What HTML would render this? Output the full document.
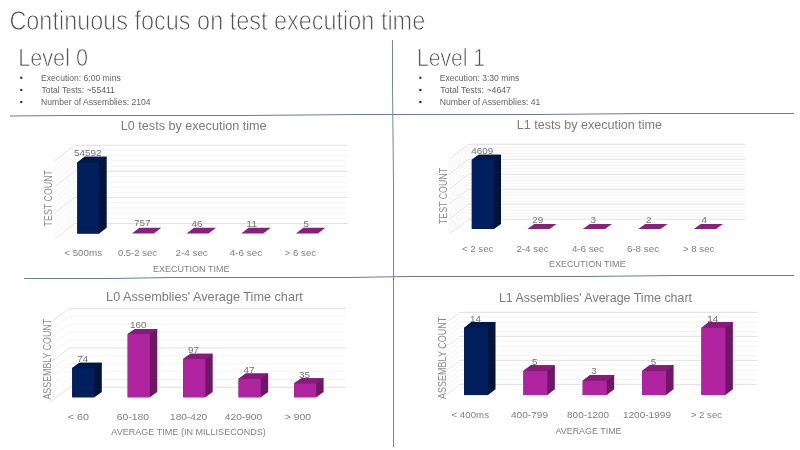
<!DOCTYPE html>
<html><head><meta charset="utf-8"><style>
html,body{margin:0;padding:0;background:#fff;}
body{width:800px;height:450px;overflow:hidden;}
svg{display:block;font-family:"Liberation Sans", sans-serif;will-change:transform;}
</style></head><body>
<svg width="800" height="450" viewBox="0 0 800 450">
<rect width="800" height="450" fill="#ffffff"/>
<text x="9.4" y="29.9" font-size="27" fill="#505050" textLength="415.8" lengthAdjust="spacingAndGlyphs" stroke="#fff" stroke-width="0.8">Continuous focus on test execution time</text>
<text x="18.2" y="65.8" font-size="23.5" fill="#505050" textLength="69.8" lengthAdjust="spacingAndGlyphs" stroke="#fff" stroke-width="0.7">Level 0</text>
<text x="416.9" y="66.2" font-size="23.5" fill="#505050" textLength="68.2" lengthAdjust="spacingAndGlyphs" stroke="#fff" stroke-width="0.7">Level 1</text>
<rect x="20.2" y="76.7" width="2.1" height="2.1" fill="#1a2656"/>
<text x="41.1" y="80.5" font-size="9.3" fill="#626262" textLength="79.6" lengthAdjust="spacingAndGlyphs">Execution: 6:00 mins</text>
<rect x="20.2" y="88.9" width="2.1" height="2.1" fill="#1a2656"/>
<text x="41.6" y="92.7" font-size="9.3" fill="#626262" textLength="73.2" lengthAdjust="spacingAndGlyphs">Total Tests: ~55411</text>
<rect x="20.2" y="101.0" width="2.1" height="2.1" fill="#1a2656"/>
<text x="41.1" y="104.8" font-size="9.3" fill="#626262" textLength="109.5" lengthAdjust="spacingAndGlyphs">Number of Assemblies: 2104</text>
<rect x="419.3" y="76.7" width="2.1" height="2.1" fill="#1a2656"/>
<text x="439.8" y="80.5" font-size="9.3" fill="#626262" textLength="79.5" lengthAdjust="spacingAndGlyphs">Execution: 3:30 mins</text>
<rect x="419.3" y="88.9" width="2.1" height="2.1" fill="#1a2656"/>
<text x="440.3" y="92.7" font-size="9.3" fill="#626262" textLength="70.7" lengthAdjust="spacingAndGlyphs">Total Tests: ~4647</text>
<rect x="419.3" y="101.0" width="2.1" height="2.1" fill="#1a2656"/>
<text x="439.8" y="104.8" font-size="9.3" fill="#626262" textLength="100.6" lengthAdjust="spacingAndGlyphs">Number of Assemblies: 41</text>
<polyline points="10,116.0 65,115.5 247,115.5 357,114.5 538,114.5 648,113.5 794,113.5" fill="none" stroke="#6a7b9f" stroke-width="1"/>
<polyline points="24,278.5 112,278.5 172,277.5 349,277.5 409,276.5 586,276.5 675,275.5 794,275.5" fill="none" stroke="#6a7b9f" stroke-width="1"/>
<polyline points="392.5,40 392.5,87 393.5,183 393.5,447" fill="none" stroke="#7384a6" stroke-width="1"/>
<line x1="74.6" y1="145.3" x2="347.3" y2="145.3" stroke="#d9d9d9" stroke-width="0.8"/>
<line x1="74.6" y1="145.3" x2="54.8" y2="160.6" stroke="#d9d9d9" stroke-width="0.8"/>
<line x1="74.6" y1="150.5" x2="347.3" y2="150.5" stroke="#f0f0f0" stroke-width="0.8"/>
<line x1="74.6" y1="150.5" x2="54.8" y2="165.8" stroke="#f0f0f0" stroke-width="0.8"/>
<line x1="74.6" y1="155.7" x2="347.3" y2="155.7" stroke="#f0f0f0" stroke-width="0.8"/>
<line x1="74.6" y1="155.7" x2="54.8" y2="171.0" stroke="#f0f0f0" stroke-width="0.8"/>
<line x1="74.6" y1="160.9" x2="347.3" y2="160.9" stroke="#f0f0f0" stroke-width="0.8"/>
<line x1="74.6" y1="160.9" x2="54.8" y2="176.2" stroke="#f0f0f0" stroke-width="0.8"/>
<line x1="74.6" y1="166.2" x2="347.3" y2="166.2" stroke="#f0f0f0" stroke-width="0.8"/>
<line x1="74.6" y1="166.2" x2="54.8" y2="181.5" stroke="#f0f0f0" stroke-width="0.8"/>
<line x1="74.6" y1="171.4" x2="347.3" y2="171.4" stroke="#d9d9d9" stroke-width="0.8"/>
<line x1="74.6" y1="171.4" x2="54.8" y2="186.7" stroke="#d9d9d9" stroke-width="0.8"/>
<line x1="74.6" y1="176.6" x2="347.3" y2="176.6" stroke="#f0f0f0" stroke-width="0.8"/>
<line x1="74.6" y1="176.6" x2="54.8" y2="191.9" stroke="#f0f0f0" stroke-width="0.8"/>
<line x1="74.6" y1="181.8" x2="347.3" y2="181.8" stroke="#f0f0f0" stroke-width="0.8"/>
<line x1="74.6" y1="181.8" x2="54.8" y2="197.1" stroke="#f0f0f0" stroke-width="0.8"/>
<line x1="74.6" y1="187.0" x2="347.3" y2="187.0" stroke="#f0f0f0" stroke-width="0.8"/>
<line x1="74.6" y1="187.0" x2="54.8" y2="202.3" stroke="#f0f0f0" stroke-width="0.8"/>
<line x1="74.6" y1="192.2" x2="347.3" y2="192.2" stroke="#f0f0f0" stroke-width="0.8"/>
<line x1="74.6" y1="192.2" x2="54.8" y2="207.5" stroke="#f0f0f0" stroke-width="0.8"/>
<line x1="74.6" y1="197.4" x2="347.3" y2="197.4" stroke="#d9d9d9" stroke-width="0.8"/>
<line x1="74.6" y1="197.4" x2="54.8" y2="212.7" stroke="#d9d9d9" stroke-width="0.8"/>
<line x1="74.6" y1="202.6" x2="347.3" y2="202.6" stroke="#f0f0f0" stroke-width="0.8"/>
<line x1="74.6" y1="202.6" x2="54.8" y2="217.9" stroke="#f0f0f0" stroke-width="0.8"/>
<line x1="74.6" y1="207.9" x2="347.3" y2="207.9" stroke="#f0f0f0" stroke-width="0.8"/>
<line x1="74.6" y1="207.9" x2="54.8" y2="223.2" stroke="#f0f0f0" stroke-width="0.8"/>
<line x1="74.6" y1="213.1" x2="347.3" y2="213.1" stroke="#f0f0f0" stroke-width="0.8"/>
<line x1="74.6" y1="213.1" x2="54.8" y2="228.4" stroke="#f0f0f0" stroke-width="0.8"/>
<line x1="74.6" y1="218.3" x2="347.3" y2="218.3" stroke="#f0f0f0" stroke-width="0.8"/>
<line x1="74.6" y1="218.3" x2="54.8" y2="233.6" stroke="#f0f0f0" stroke-width="0.8"/>
<line x1="74.6" y1="223.5" x2="347.3" y2="223.5" stroke="#d9d9d9" stroke-width="0.8"/>
<line x1="74.6" y1="223.5" x2="54.8" y2="238.8" stroke="#d9d9d9" stroke-width="0.8"/>
<polygon points="77.30,162.45 84.70,156.65 106.70,156.65 106.70,227.80 99.30,233.60 77.30,233.60" fill="#001439"/>
<polygon points="77.30,162.45 99.80,162.45 107.20,156.65 84.70,156.65" fill="#001848"/>
<rect x="77.30" y="162.45" width="22.00" height="71.15" fill="#001f5c"/>
<text x="87.7" y="156.1" font-size="9.8" fill="#747474" textLength="27.5" lengthAdjust="spacingAndGlyphs" text-anchor="middle">54592</text>
<polygon points="131.95,233.60 153.95,233.60 161.35,227.80 139.35,227.80" fill="#8a1f7c"/>
<text x="142.3" y="226.3" font-size="9.8" fill="#747474" textLength="16.5" lengthAdjust="spacingAndGlyphs" text-anchor="middle">757</text>
<polygon points="186.60,233.60 208.60,233.60 216.00,227.80 194.00,227.80" fill="#8a1f7c"/>
<text x="197.0" y="227.2" font-size="9.8" fill="#747474" textLength="11.0" lengthAdjust="spacingAndGlyphs" text-anchor="middle">46</text>
<polygon points="241.25,233.60 263.25,233.60 270.65,227.80 248.65,227.80" fill="#8a1f7c"/>
<text x="251.7" y="227.3" font-size="9.8" fill="#747474" textLength="11.0" lengthAdjust="spacingAndGlyphs" text-anchor="middle">11</text>
<polygon points="295.90,233.60 317.90,233.60 325.30,227.80 303.30,227.80" fill="#8a1f7c"/>
<text x="306.3" y="227.3" font-size="9.8" fill="#747474" textLength="5.5" lengthAdjust="spacingAndGlyphs" text-anchor="middle">5</text>
<text x="64.2" y="255.9" font-size="9.8" fill="#808080" textLength="37.9" lengthAdjust="spacingAndGlyphs">&lt; 500ms</text>
<text x="117.9" y="255.9" font-size="9.8" fill="#808080" textLength="39.1" lengthAdjust="spacingAndGlyphs">0.5-2 sec</text>
<text x="175.5" y="255.9" font-size="9.8" fill="#808080" textLength="32.3" lengthAdjust="spacingAndGlyphs">2-4 sec</text>
<text x="229.8" y="255.9" font-size="9.8" fill="#808080" textLength="32.3" lengthAdjust="spacingAndGlyphs">4-6 sec</text>
<text x="284.5" y="255.9" font-size="9.8" fill="#808080" textLength="31.7" lengthAdjust="spacingAndGlyphs">&gt; 6 sec</text>
<text x="153.1" y="271.9" font-size="9.6" fill="#828282" textLength="76.3" lengthAdjust="spacingAndGlyphs">EXECUTION TIME</text>
<text x="120.8" y="129.5" font-size="13" fill="#7c7c7c" textLength="145.8" lengthAdjust="spacingAndGlyphs">L0 tests by execution time</text>
<text x="0" y="0" font-size="10.2" fill="#8a8a8a" text-anchor="middle" textLength="56.4" lengthAdjust="spacingAndGlyphs" transform="translate(52.0,198.2) rotate(-90)">TEST COUNT</text>
<line x1="468.6" y1="144.3" x2="745.0" y2="144.3" stroke="#d9d9d9" stroke-width="0.8"/>
<line x1="468.6" y1="144.3" x2="449.0" y2="159.3" stroke="#d9d9d9" stroke-width="0.8"/>
<line x1="468.6" y1="147.3" x2="745.0" y2="147.3" stroke="#f0f0f0" stroke-width="0.8"/>
<line x1="468.6" y1="147.3" x2="449.0" y2="162.3" stroke="#f0f0f0" stroke-width="0.8"/>
<line x1="468.6" y1="150.3" x2="745.0" y2="150.3" stroke="#f0f0f0" stroke-width="0.8"/>
<line x1="468.6" y1="150.3" x2="449.0" y2="165.3" stroke="#f0f0f0" stroke-width="0.8"/>
<line x1="468.6" y1="153.3" x2="745.0" y2="153.3" stroke="#f0f0f0" stroke-width="0.8"/>
<line x1="468.6" y1="153.3" x2="449.0" y2="168.3" stroke="#f0f0f0" stroke-width="0.8"/>
<line x1="468.6" y1="156.3" x2="745.0" y2="156.3" stroke="#f0f0f0" stroke-width="0.8"/>
<line x1="468.6" y1="156.3" x2="449.0" y2="171.3" stroke="#f0f0f0" stroke-width="0.8"/>
<line x1="468.6" y1="159.3" x2="745.0" y2="159.3" stroke="#d9d9d9" stroke-width="0.8"/>
<line x1="468.6" y1="159.3" x2="449.0" y2="174.3" stroke="#d9d9d9" stroke-width="0.8"/>
<line x1="468.6" y1="162.3" x2="745.0" y2="162.3" stroke="#f0f0f0" stroke-width="0.8"/>
<line x1="468.6" y1="162.3" x2="449.0" y2="177.3" stroke="#f0f0f0" stroke-width="0.8"/>
<line x1="468.6" y1="165.3" x2="745.0" y2="165.3" stroke="#f0f0f0" stroke-width="0.8"/>
<line x1="468.6" y1="165.3" x2="449.0" y2="180.3" stroke="#f0f0f0" stroke-width="0.8"/>
<line x1="468.6" y1="168.3" x2="745.0" y2="168.3" stroke="#f0f0f0" stroke-width="0.8"/>
<line x1="468.6" y1="168.3" x2="449.0" y2="183.3" stroke="#f0f0f0" stroke-width="0.8"/>
<line x1="468.6" y1="171.3" x2="745.0" y2="171.3" stroke="#f0f0f0" stroke-width="0.8"/>
<line x1="468.6" y1="171.3" x2="449.0" y2="186.3" stroke="#f0f0f0" stroke-width="0.8"/>
<line x1="468.6" y1="174.3" x2="745.0" y2="174.3" stroke="#d9d9d9" stroke-width="0.8"/>
<line x1="468.6" y1="174.3" x2="449.0" y2="189.3" stroke="#d9d9d9" stroke-width="0.8"/>
<line x1="468.6" y1="177.3" x2="745.0" y2="177.3" stroke="#f0f0f0" stroke-width="0.8"/>
<line x1="468.6" y1="177.3" x2="449.0" y2="192.3" stroke="#f0f0f0" stroke-width="0.8"/>
<line x1="468.6" y1="180.3" x2="745.0" y2="180.3" stroke="#f0f0f0" stroke-width="0.8"/>
<line x1="468.6" y1="180.3" x2="449.0" y2="195.3" stroke="#f0f0f0" stroke-width="0.8"/>
<line x1="468.6" y1="183.2" x2="745.0" y2="183.2" stroke="#f0f0f0" stroke-width="0.8"/>
<line x1="468.6" y1="183.2" x2="449.0" y2="198.2" stroke="#f0f0f0" stroke-width="0.8"/>
<line x1="468.6" y1="186.2" x2="745.0" y2="186.2" stroke="#f0f0f0" stroke-width="0.8"/>
<line x1="468.6" y1="186.2" x2="449.0" y2="201.2" stroke="#f0f0f0" stroke-width="0.8"/>
<line x1="468.6" y1="189.2" x2="745.0" y2="189.2" stroke="#d9d9d9" stroke-width="0.8"/>
<line x1="468.6" y1="189.2" x2="449.0" y2="204.2" stroke="#d9d9d9" stroke-width="0.8"/>
<line x1="468.6" y1="192.2" x2="745.0" y2="192.2" stroke="#f0f0f0" stroke-width="0.8"/>
<line x1="468.6" y1="192.2" x2="449.0" y2="207.2" stroke="#f0f0f0" stroke-width="0.8"/>
<line x1="468.6" y1="195.2" x2="745.0" y2="195.2" stroke="#f0f0f0" stroke-width="0.8"/>
<line x1="468.6" y1="195.2" x2="449.0" y2="210.2" stroke="#f0f0f0" stroke-width="0.8"/>
<line x1="468.6" y1="198.2" x2="745.0" y2="198.2" stroke="#f0f0f0" stroke-width="0.8"/>
<line x1="468.6" y1="198.2" x2="449.0" y2="213.2" stroke="#f0f0f0" stroke-width="0.8"/>
<line x1="468.6" y1="201.2" x2="745.0" y2="201.2" stroke="#f0f0f0" stroke-width="0.8"/>
<line x1="468.6" y1="201.2" x2="449.0" y2="216.2" stroke="#f0f0f0" stroke-width="0.8"/>
<line x1="468.6" y1="204.2" x2="745.0" y2="204.2" stroke="#d9d9d9" stroke-width="0.8"/>
<line x1="468.6" y1="204.2" x2="449.0" y2="219.2" stroke="#d9d9d9" stroke-width="0.8"/>
<line x1="468.6" y1="207.2" x2="745.0" y2="207.2" stroke="#f0f0f0" stroke-width="0.8"/>
<line x1="468.6" y1="207.2" x2="449.0" y2="222.2" stroke="#f0f0f0" stroke-width="0.8"/>
<line x1="468.6" y1="210.2" x2="745.0" y2="210.2" stroke="#f0f0f0" stroke-width="0.8"/>
<line x1="468.6" y1="210.2" x2="449.0" y2="225.2" stroke="#f0f0f0" stroke-width="0.8"/>
<line x1="468.6" y1="213.2" x2="745.0" y2="213.2" stroke="#f0f0f0" stroke-width="0.8"/>
<line x1="468.6" y1="213.2" x2="449.0" y2="228.2" stroke="#f0f0f0" stroke-width="0.8"/>
<line x1="468.6" y1="216.2" x2="745.0" y2="216.2" stroke="#f0f0f0" stroke-width="0.8"/>
<line x1="468.6" y1="216.2" x2="449.0" y2="231.2" stroke="#f0f0f0" stroke-width="0.8"/>
<line x1="468.6" y1="219.2" x2="745.0" y2="219.2" stroke="#d9d9d9" stroke-width="0.8"/>
<line x1="468.6" y1="219.2" x2="449.0" y2="234.2" stroke="#d9d9d9" stroke-width="0.8"/>
<polygon points="471.80,159.86 478.80,154.86 501.00,154.86 501.00,223.90 494.00,228.90 471.80,228.90" fill="#001439"/>
<polygon points="471.80,159.86 494.50,159.86 501.50,154.86 478.80,154.86" fill="#001848"/>
<rect x="471.80" y="159.86" width="22.20" height="69.04" fill="#001f5c"/>
<text x="482.3" y="154.4" font-size="9.8" fill="#747474" textLength="22.0" lengthAdjust="spacingAndGlyphs" text-anchor="middle">4609</text>
<polygon points="527.30,228.90 549.50,228.90 556.50,223.90 534.30,223.90" fill="#8a1f7c"/>
<text x="537.8" y="223.0" font-size="9.8" fill="#747474" textLength="11.0" lengthAdjust="spacingAndGlyphs" text-anchor="middle">29</text>
<polygon points="582.80,228.90 605.00,228.90 612.00,223.90 589.80,223.90" fill="#8a1f7c"/>
<text x="593.3" y="223.4" font-size="9.8" fill="#747474" textLength="5.5" lengthAdjust="spacingAndGlyphs" text-anchor="middle">3</text>
<polygon points="638.30,228.90 660.50,228.90 667.50,223.90 645.30,223.90" fill="#8a1f7c"/>
<text x="648.8" y="223.4" font-size="9.8" fill="#747474" textLength="5.5" lengthAdjust="spacingAndGlyphs" text-anchor="middle">2</text>
<polygon points="693.80,228.90 716.00,228.90 723.00,223.90 700.80,223.90" fill="#8a1f7c"/>
<text x="704.3" y="223.3" font-size="9.8" fill="#747474" textLength="5.5" lengthAdjust="spacingAndGlyphs" text-anchor="middle">4</text>
<text x="462.0" y="251.6" font-size="9.8" fill="#808080" textLength="31.3" lengthAdjust="spacingAndGlyphs">&lt; 2 sec</text>
<text x="516.4" y="251.6" font-size="9.8" fill="#808080" textLength="32.2" lengthAdjust="spacingAndGlyphs">2-4 sec</text>
<text x="571.9" y="251.6" font-size="9.8" fill="#808080" textLength="32.0" lengthAdjust="spacingAndGlyphs">4-6 sec</text>
<text x="626.9" y="251.6" font-size="9.8" fill="#808080" textLength="32.2" lengthAdjust="spacingAndGlyphs">6-8 sec</text>
<text x="683.0" y="251.6" font-size="9.8" fill="#808080" textLength="31.3" lengthAdjust="spacingAndGlyphs">&gt; 8 sec</text>
<text x="548.9" y="266.6" font-size="9.6" fill="#828282" textLength="76.8" lengthAdjust="spacingAndGlyphs">EXECUTION TIME</text>
<text x="516.7" y="129.2" font-size="13" fill="#7c7c7c" textLength="145.3" lengthAdjust="spacingAndGlyphs">L1 tests by execution time</text>
<text x="0" y="0" font-size="10.2" fill="#8a8a8a" text-anchor="middle" textLength="56.2" lengthAdjust="spacingAndGlyphs" transform="translate(447.0,196.0) rotate(-90)">TEST COUNT</text>
<line x1="69.5" y1="308.4" x2="346.0" y2="308.4" stroke="#d9d9d9" stroke-width="0.8"/>
<line x1="69.5" y1="308.4" x2="49.5" y2="323.4" stroke="#d9d9d9" stroke-width="0.8"/>
<line x1="69.5" y1="316.3" x2="346.0" y2="316.3" stroke="#f0f0f0" stroke-width="0.8"/>
<line x1="69.5" y1="316.3" x2="49.5" y2="331.3" stroke="#f0f0f0" stroke-width="0.8"/>
<line x1="69.5" y1="324.2" x2="346.0" y2="324.2" stroke="#f0f0f0" stroke-width="0.8"/>
<line x1="69.5" y1="324.2" x2="49.5" y2="339.2" stroke="#f0f0f0" stroke-width="0.8"/>
<line x1="69.5" y1="332.1" x2="346.0" y2="332.1" stroke="#f0f0f0" stroke-width="0.8"/>
<line x1="69.5" y1="332.1" x2="49.5" y2="347.1" stroke="#f0f0f0" stroke-width="0.8"/>
<line x1="69.5" y1="340.0" x2="346.0" y2="340.0" stroke="#f0f0f0" stroke-width="0.8"/>
<line x1="69.5" y1="340.0" x2="49.5" y2="355.0" stroke="#f0f0f0" stroke-width="0.8"/>
<line x1="69.5" y1="347.9" x2="346.0" y2="347.9" stroke="#d9d9d9" stroke-width="0.8"/>
<line x1="69.5" y1="347.9" x2="49.5" y2="362.9" stroke="#d9d9d9" stroke-width="0.8"/>
<line x1="69.5" y1="355.8" x2="346.0" y2="355.8" stroke="#f0f0f0" stroke-width="0.8"/>
<line x1="69.5" y1="355.8" x2="49.5" y2="370.8" stroke="#f0f0f0" stroke-width="0.8"/>
<line x1="69.5" y1="363.7" x2="346.0" y2="363.7" stroke="#f0f0f0" stroke-width="0.8"/>
<line x1="69.5" y1="363.7" x2="49.5" y2="378.7" stroke="#f0f0f0" stroke-width="0.8"/>
<line x1="69.5" y1="371.6" x2="346.0" y2="371.6" stroke="#f0f0f0" stroke-width="0.8"/>
<line x1="69.5" y1="371.6" x2="49.5" y2="386.6" stroke="#f0f0f0" stroke-width="0.8"/>
<line x1="69.5" y1="379.5" x2="346.0" y2="379.5" stroke="#f0f0f0" stroke-width="0.8"/>
<line x1="69.5" y1="379.5" x2="49.5" y2="394.5" stroke="#f0f0f0" stroke-width="0.8"/>
<line x1="69.5" y1="387.4" x2="346.0" y2="387.4" stroke="#d9d9d9" stroke-width="0.8"/>
<line x1="69.5" y1="387.4" x2="49.5" y2="402.4" stroke="#d9d9d9" stroke-width="0.8"/>
<polygon points="72.20,368.07 79.60,362.87 101.80,362.87 101.80,392.10 94.40,397.30 72.20,397.30" fill="#001439"/>
<polygon points="72.20,368.07 94.90,368.07 102.30,362.87 79.60,362.87" fill="#001848"/>
<rect x="72.20" y="368.07" width="22.20" height="29.23" fill="#001f5c"/>
<text x="82.7" y="362.4" font-size="9.8" fill="#747474" textLength="11.0" lengthAdjust="spacingAndGlyphs" text-anchor="middle">74</text>
<polygon points="127.65,334.10 135.05,328.90 157.25,328.90 157.25,392.10 149.85,397.30 127.65,397.30" fill="#6e1865"/>
<polygon points="127.65,334.10 150.35,334.10 157.75,328.90 135.05,328.90" fill="#861c7a"/>
<rect x="127.65" y="334.10" width="22.20" height="63.20" fill="#b0259f"/>
<text x="138.2" y="328.4" font-size="9.8" fill="#747474" textLength="16.5" lengthAdjust="spacingAndGlyphs" text-anchor="middle">160</text>
<polygon points="183.10,358.99 190.50,353.79 212.70,353.79 212.70,392.10 205.30,397.30 183.10,397.30" fill="#6e1865"/>
<polygon points="183.10,358.99 205.80,358.99 213.20,353.79 190.50,353.79" fill="#861c7a"/>
<rect x="183.10" y="358.99" width="22.20" height="38.31" fill="#b0259f"/>
<text x="193.6" y="353.3" font-size="9.8" fill="#747474" textLength="11.0" lengthAdjust="spacingAndGlyphs" text-anchor="middle">97</text>
<polygon points="238.55,378.74 245.95,373.54 268.15,373.54 268.15,392.10 260.75,397.30 238.55,397.30" fill="#6e1865"/>
<polygon points="238.55,378.74 261.25,378.74 268.65,373.54 245.95,373.54" fill="#861c7a"/>
<rect x="238.55" y="378.74" width="22.20" height="18.56" fill="#b0259f"/>
<text x="249.1" y="373.0" font-size="9.8" fill="#747474" textLength="11.0" lengthAdjust="spacingAndGlyphs" text-anchor="middle">47</text>
<polygon points="294.00,383.48 301.40,378.28 323.60,378.28 323.60,392.10 316.20,397.30 294.00,397.30" fill="#6e1865"/>
<polygon points="294.00,383.48 316.70,383.48 324.10,378.28 301.40,378.28" fill="#861c7a"/>
<rect x="294.00" y="383.48" width="22.20" height="13.82" fill="#b0259f"/>
<text x="304.5" y="377.8" font-size="9.8" fill="#747474" textLength="11.0" lengthAdjust="spacingAndGlyphs" text-anchor="middle">35</text>
<text x="67.7" y="419.8" font-size="9.8" fill="#808080" textLength="21.3" lengthAdjust="spacingAndGlyphs">&lt; 60</text>
<text x="116.7" y="419.8" font-size="9.8" fill="#808080" textLength="32.4" lengthAdjust="spacingAndGlyphs">60-180</text>
<text x="170.0" y="419.8" font-size="9.8" fill="#808080" textLength="37.2" lengthAdjust="spacingAndGlyphs">180-420</text>
<text x="224.8" y="419.8" font-size="9.8" fill="#808080" textLength="37.4" lengthAdjust="spacingAndGlyphs">420-900</text>
<text x="284.7" y="419.8" font-size="9.8" fill="#808080" textLength="26.5" lengthAdjust="spacingAndGlyphs">&gt; 900</text>
<text x="111.3" y="435.0" font-size="9.6" fill="#828282" textLength="154.6" lengthAdjust="spacingAndGlyphs">AVERAGE TIME  (IN MILLISECONDS)</text>
<text x="106.1" y="301.3" font-size="13" fill="#7c7c7c" textLength="196.6" lengthAdjust="spacingAndGlyphs">L0 Assemblies' Average Time chart</text>
<text x="0" y="0" font-size="10.2" fill="#8a8a8a" text-anchor="middle" textLength="80.7" lengthAdjust="spacingAndGlyphs" transform="translate(50.8,359.2) rotate(-90)">ASSEMBLY COUNT</text>
<line x1="460.0" y1="312.4" x2="757.5" y2="312.4" stroke="#d9d9d9" stroke-width="0.8"/>
<line x1="460.0" y1="312.4" x2="440.0" y2="327.4" stroke="#d9d9d9" stroke-width="0.8"/>
<line x1="460.0" y1="317.2" x2="757.5" y2="317.2" stroke="#f0f0f0" stroke-width="0.8"/>
<line x1="460.0" y1="317.2" x2="440.0" y2="332.2" stroke="#f0f0f0" stroke-width="0.8"/>
<line x1="460.0" y1="322.0" x2="757.5" y2="322.0" stroke="#f0f0f0" stroke-width="0.8"/>
<line x1="460.0" y1="322.0" x2="440.0" y2="337.0" stroke="#f0f0f0" stroke-width="0.8"/>
<line x1="460.0" y1="326.8" x2="757.5" y2="326.8" stroke="#f0f0f0" stroke-width="0.8"/>
<line x1="460.0" y1="326.8" x2="440.0" y2="341.8" stroke="#f0f0f0" stroke-width="0.8"/>
<line x1="460.0" y1="331.6" x2="757.5" y2="331.6" stroke="#f0f0f0" stroke-width="0.8"/>
<line x1="460.0" y1="331.6" x2="440.0" y2="346.6" stroke="#f0f0f0" stroke-width="0.8"/>
<line x1="460.0" y1="336.4" x2="757.5" y2="336.4" stroke="#d9d9d9" stroke-width="0.8"/>
<line x1="460.0" y1="336.4" x2="440.0" y2="351.4" stroke="#d9d9d9" stroke-width="0.8"/>
<line x1="460.0" y1="341.2" x2="757.5" y2="341.2" stroke="#f0f0f0" stroke-width="0.8"/>
<line x1="460.0" y1="341.2" x2="440.0" y2="356.2" stroke="#f0f0f0" stroke-width="0.8"/>
<line x1="460.0" y1="346.0" x2="757.5" y2="346.0" stroke="#f0f0f0" stroke-width="0.8"/>
<line x1="460.0" y1="346.0" x2="440.0" y2="361.0" stroke="#f0f0f0" stroke-width="0.8"/>
<line x1="460.0" y1="350.8" x2="757.5" y2="350.8" stroke="#f0f0f0" stroke-width="0.8"/>
<line x1="460.0" y1="350.8" x2="440.0" y2="365.8" stroke="#f0f0f0" stroke-width="0.8"/>
<line x1="460.0" y1="355.6" x2="757.5" y2="355.6" stroke="#f0f0f0" stroke-width="0.8"/>
<line x1="460.0" y1="355.6" x2="440.0" y2="370.6" stroke="#f0f0f0" stroke-width="0.8"/>
<line x1="460.0" y1="360.4" x2="757.5" y2="360.4" stroke="#d9d9d9" stroke-width="0.8"/>
<line x1="460.0" y1="360.4" x2="440.0" y2="375.4" stroke="#d9d9d9" stroke-width="0.8"/>
<line x1="460.0" y1="365.2" x2="757.5" y2="365.2" stroke="#f0f0f0" stroke-width="0.8"/>
<line x1="460.0" y1="365.2" x2="440.0" y2="380.2" stroke="#f0f0f0" stroke-width="0.8"/>
<line x1="460.0" y1="370.0" x2="757.5" y2="370.0" stroke="#f0f0f0" stroke-width="0.8"/>
<line x1="460.0" y1="370.0" x2="440.0" y2="385.0" stroke="#f0f0f0" stroke-width="0.8"/>
<line x1="460.0" y1="374.8" x2="757.5" y2="374.8" stroke="#f0f0f0" stroke-width="0.8"/>
<line x1="460.0" y1="374.8" x2="440.0" y2="389.8" stroke="#f0f0f0" stroke-width="0.8"/>
<line x1="460.0" y1="379.6" x2="757.5" y2="379.6" stroke="#f0f0f0" stroke-width="0.8"/>
<line x1="460.0" y1="379.6" x2="440.0" y2="394.6" stroke="#f0f0f0" stroke-width="0.8"/>
<line x1="460.0" y1="384.4" x2="757.5" y2="384.4" stroke="#d9d9d9" stroke-width="0.8"/>
<line x1="460.0" y1="384.4" x2="440.0" y2="399.4" stroke="#d9d9d9" stroke-width="0.8"/>
<polygon points="464.00,327.90 471.50,322.10 495.50,322.10 495.50,389.30 488.00,395.10 464.00,395.10" fill="#001439"/>
<polygon points="464.00,327.90 488.50,327.90 496.00,322.10 471.50,322.10" fill="#001848"/>
<rect x="464.00" y="327.90" width="24.00" height="67.20" fill="#001f5c"/>
<text x="475.4" y="321.6" font-size="9.8" fill="#747474" textLength="11.0" lengthAdjust="spacingAndGlyphs" text-anchor="middle">14</text>
<polygon points="523.35,371.10 530.85,365.30 554.85,365.30 554.85,389.30 547.35,395.10 523.35,395.10" fill="#6e1865"/>
<polygon points="523.35,371.10 547.85,371.10 555.35,365.30 530.85,365.30" fill="#861c7a"/>
<rect x="523.35" y="371.10" width="24.00" height="24.00" fill="#b0259f"/>
<text x="534.8" y="364.8" font-size="9.8" fill="#747474" textLength="5.5" lengthAdjust="spacingAndGlyphs" text-anchor="middle">5</text>
<polygon points="582.70,380.70 590.20,374.90 614.20,374.90 614.20,389.30 606.70,395.10 582.70,395.10" fill="#6e1865"/>
<polygon points="582.70,380.70 607.20,380.70 614.70,374.90 590.20,374.90" fill="#861c7a"/>
<rect x="582.70" y="380.70" width="24.00" height="14.40" fill="#b0259f"/>
<text x="594.1" y="374.4" font-size="9.8" fill="#747474" textLength="5.5" lengthAdjust="spacingAndGlyphs" text-anchor="middle">3</text>
<polygon points="642.05,371.10 649.55,365.30 673.55,365.30 673.55,389.30 666.05,395.10 642.05,395.10" fill="#6e1865"/>
<polygon points="642.05,371.10 666.55,371.10 674.05,365.30 649.55,365.30" fill="#861c7a"/>
<rect x="642.05" y="371.10" width="24.00" height="24.00" fill="#b0259f"/>
<text x="653.4" y="364.8" font-size="9.8" fill="#747474" textLength="5.5" lengthAdjust="spacingAndGlyphs" text-anchor="middle">5</text>
<polygon points="701.40,327.90 708.90,322.10 732.90,322.10 732.90,389.30 725.40,395.10 701.40,395.10" fill="#6e1865"/>
<polygon points="701.40,327.90 725.90,327.90 733.40,322.10 708.90,322.10" fill="#861c7a"/>
<rect x="701.40" y="327.90" width="24.00" height="67.20" fill="#b0259f"/>
<text x="712.8" y="321.6" font-size="9.8" fill="#747474" textLength="11.0" lengthAdjust="spacingAndGlyphs" text-anchor="middle">14</text>
<text x="451.5" y="418.1" font-size="9.8" fill="#808080" textLength="37.5" lengthAdjust="spacingAndGlyphs">&lt; 400ms</text>
<text x="511.0" y="418.1" font-size="9.8" fill="#808080" textLength="37.1" lengthAdjust="spacingAndGlyphs">400-799</text>
<text x="567.1" y="418.1" font-size="9.8" fill="#808080" textLength="42.0" lengthAdjust="spacingAndGlyphs">800-1200</text>
<text x="622.9" y="418.1" font-size="9.8" fill="#808080" textLength="48.1" lengthAdjust="spacingAndGlyphs">1200-1999</text>
<text x="690.7" y="418.1" font-size="9.8" fill="#808080" textLength="31.5" lengthAdjust="spacingAndGlyphs">&gt; 2 sec</text>
<text x="555.5" y="433.8" font-size="9.6" fill="#828282" textLength="66.0" lengthAdjust="spacingAndGlyphs">AVERAGE TIME</text>
<text x="498.9" y="302.1" font-size="13" fill="#7c7c7c" textLength="193.2" lengthAdjust="spacingAndGlyphs">L1 Assemblies' Average Time chart</text>
<text x="0" y="0" font-size="10.2" fill="#8a8a8a" text-anchor="middle" textLength="82.2" lengthAdjust="spacingAndGlyphs" transform="translate(446.0,357.8) rotate(-90)">ASSEMBLY COUNT</text>
</svg>
</body></html>
